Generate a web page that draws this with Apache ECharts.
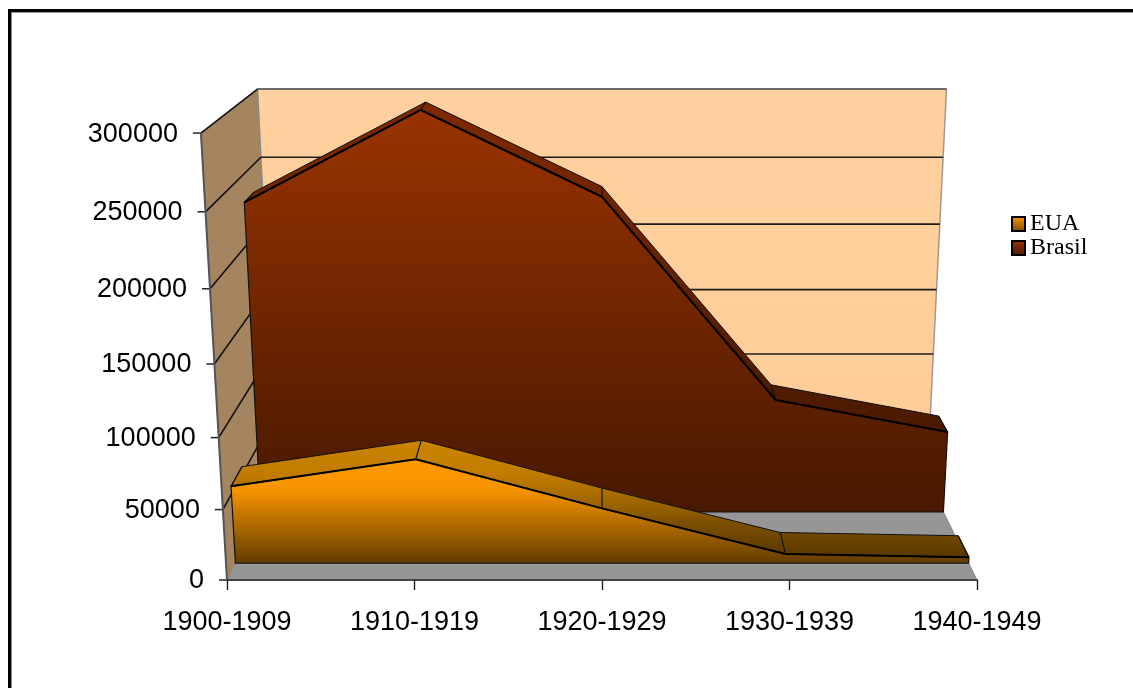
<!DOCTYPE html>
<html>
<head>
<meta charset="utf-8">
<title>EUA Brasil</title>
<script src="https://cdn.jsdelivr.net/npm/echarts@6/dist/echarts.min.js"></script>
<style>
html, body { margin: 0; padding: 0; background: #fff; }
#main { width: 1133px; height: 688px; }
</style>
</head>
<body>
<div id="main"></div>
<script>
var categories = ['1900-1909', '1910-1919', '1920-1929', '1930-1939', '1940-1949'];
var eua = [55500, 74800, 39700, 6600, 4200];
var brasil = [230600, 295400, 234600, 85900, 61700];
var yTicks = [0, 50000, 100000, 150000, 200000, 250000, 300000];

var myChart = echarts.init(document.getElementById('main'));

// flat grid, everything below is bent from it into the excel style 3d box
var gridLeft = 227, gridWidth = 750, gridTop = 133, gridHeight = 447;
var centerX = gridLeft + gridWidth / 2, baseY = gridTop + gridHeight;

function project(p, depth) {
    var v = (baseY - p[1]) / gridHeight;
    var w = 1 - 0.065 * v + 0.1535 * depth;
    return [centerX + (p[0] - centerX) / w, (baseY - 455.6 * v - 27.5 * depth) / w];
}

function gradient(y0, y1, stops) {
    return new echarts.graphic.LinearGradient(0, y0, 0, y1, stops, true);
}

function poly(points, fill, stroke, width) {
    return {
        type: 'polygon',
        shape: { points: points },
        style: { fill: fill, stroke: stroke, lineWidth: width }
    };
}

function line(a, b, color, width) {
    return {
        type: 'line',
        shape: { x1: a[0], y1: a[1], x2: b[0], y2: b[1] },
        style: { stroke: color, lineWidth: width, fill: null }
    };
}

function renderBox(params, api) {
    var last = categories.length - 1;
    var topValue = yTicks[yTicks.length - 1];
    var value = api.value(1);
    var children = [];
    if (params.dataIndex === 0) {
        var a = api.coord([0, 0]), b = api.coord([last, 0]);
        var c = api.coord([0, topValue]), e = api.coord([last, topValue]);
        children.push(poly([project(c, 1), project(e, 1), project(b, 1), project(a, 1)],
            gradient(89, 420, [
                { offset: 0, color: '#ffd19f' },
                { offset: 1, color: '#ffcd98' }
            ]), '#999', 1.5));
        children.push(poly([project(c, 0), project(c, 1), project(a, 1), project(a, 0)], '#a5855f', '#888', 1));
        children.push(poly([project(a, 0), project(a, 1), project(b, 1), project(b, 0)], '#969696', '#888', 1));
    }
    var left = api.coord([0, value]), right = api.coord([last, value]);
    if (value > 0) {
        children.push(line(project(left, 0), project(left, 1), '#111', 1.6));
        children.push(line(project(left, 1), project(right, 1), value === topValue ? '#555' : '#1c1c1c', 1.6));
    }
    var edge = project(left, 0);
    children.push(line([edge[0] - 8, edge[1]], edge, '#222', 1.5));
    if (value === topValue) {
        children.push(line(project(api.coord([0, 0]), 0), edge, '#555', 2));
    }
    children.push({
        type: 'text',
        style: {
            text: String(value),
            x: edge[0] - 23,
            y: edge[1] + 1,
            align: 'right',
            verticalAlign: 'middle',
            fontFamily: 'Liberation Sans',
            fontSize: 27,
            fill: '#000'
        }
    });
    return { type: 'group', children: children };
}

function areaRenderer(values, dFront, dBack, frontFill, topFill) {
    return function (params, api) {
        if (params.dataIndex !== 0) return null;
        var front = [], back = [], children = [];
        for (var i = 0; i < values.length; i++) {
            var p = api.coord([i, values[i]]);
            front.push(project(p, dFront));
            back.push(project(p, dBack));
        }
        children.push(poly(front.concat(back.slice().reverse()), topFill, '#111', 1));
        for (i = 0; i < values.length; i++) {
            children.push(line(front[i], back[i], '#111', 1.2));
        }
        var baseL = project(api.coord([0, 0]), dFront);
        var baseR = project(api.coord([values.length - 1, 0]), dFront);
        children.push(poly([baseL].concat(front, [baseR]), frontFill, '#111', 1.2));
        for (i = 0; i < values.length - 1; i++) {
            children.push(line(front[i], front[i + 1], '#000', 2));
        }
        return { type: 'group', children: children };
    };
}

function toData(values) {
    return values.map(function (v, i) { return [i, v]; });
}

var option = {
    backgroundColor: '#fff',
    animation: false,
    grid: { left: gridLeft, top: gridTop, width: gridWidth, height: gridHeight },
    xAxis: {
        type: 'category',
        data: categories,
        boundaryGap: false,
        axisLine: { lineStyle: { color: '#444', width: 2 } },
        axisTick: { length: 10, alignWithLabel: true, lineStyle: { color: '#222', width: 1.4 } },
        axisLabel: {
            interval: 0,
            margin: 29,
            color: '#000',
            fontFamily: 'Liberation Sans',
            fontSize: 27
        },
        z: 5
    },
    yAxis: {
        type: 'value',
        min: 0,
        max: 300000,
        interval: 50000,
        show: false
    },
    legend: {
        orient: 'vertical',
        left: 1006,
        top: 207,
        itemWidth: 13,
        itemHeight: 14,
        itemGap: 0,
        textStyle: {
            fontFamily: 'Liberation Serif',
            fontSize: 24,
            color: '#000',
            padding: [0, 0, 0, 0]
        },
        data: [
            {
                name: 'EUA',
                icon: 'rect',
                itemStyle: {
                    color: new echarts.graphic.LinearGradient(0, 0, 0, 1, [
                        { offset: 0, color: '#ff9900' },
                        { offset: 1, color: '#7a4a00' }
                    ]),
                    borderColor: '#000',
                    borderWidth: 2
                }
            },
            {
                name: 'Brasil',
                icon: 'rect',
                itemStyle: {
                    color: new echarts.graphic.LinearGradient(0, 0, 0, 1, [
                        { offset: 0, color: '#993300' },
                        { offset: 1, color: '#4a1a00' }
                    ]),
                    borderColor: '#000',
                    borderWidth: 2
                }
            }
        ]
    },
    tooltip: { show: false },
    graphic: [
        { type: 'rect', z: 10, shape: { x: 8, y: 9, width: 1125, height: 3 }, style: { fill: '#000' } },
        { type: 'rect', z: 10, shape: { x: 8, y: 9, width: 3, height: 679 }, style: { fill: '#000' } },
        { type: 'rect', z: 10, shape: { x: 11, y: 12, width: 1122, height: 1 }, style: { fill: '#999' } },
        { type: 'rect', z: 10, shape: { x: 11, y: 12, width: 1, height: 676 }, style: { fill: '#888' } }
    ],
    series: [
        {
            name: 'caixa',
            type: 'custom',
            z: 1,
            encode: { x: 0, y: 1 },
            renderItem: renderBox,
            data: yTicks.map(function (v) { return [0, v]; })
        },
        {
            name: 'Brasil',
            type: 'custom',
            z: 2,
            encode: { x: 0, y: 1 },
            renderItem: areaRenderer(brasil, 0.641, 0.83,
                gradient(110, 512, [
                    { offset: 0, color: '#993300' },
                    { offset: 1, color: '#471800' }
                ]),
                gradient(100, 430, [
                    { offset: 0, color: '#802a00' },
                    { offset: 1, color: '#4a1a00' }
                ])),
            data: toData(brasil)
        },
        {
            name: 'EUA',
            type: 'custom',
            z: 3,
            encode: { x: 0, y: 1 },
            renderItem: areaRenderer(eua, 0.149, 0.35,
                gradient(460, 563, [
                    { offset: 0, color: '#ff9900' },
                    { offset: 0.3, color: '#f59300' },
                    { offset: 1, color: '#633c00' }
                ]),
                gradient(441, 557, [
                    { offset: 0, color: '#cc8400' },
                    { offset: 0.3, color: '#c07b00' },
                    { offset: 0.55, color: '#9a6300' },
                    { offset: 0.7, color: '#7d5000' },
                    { offset: 1, color: '#593800' }
                ])),
            data: toData(eua)
        }
    ]
};

myChart.setOption(option);
</script>
</body>
</html>
